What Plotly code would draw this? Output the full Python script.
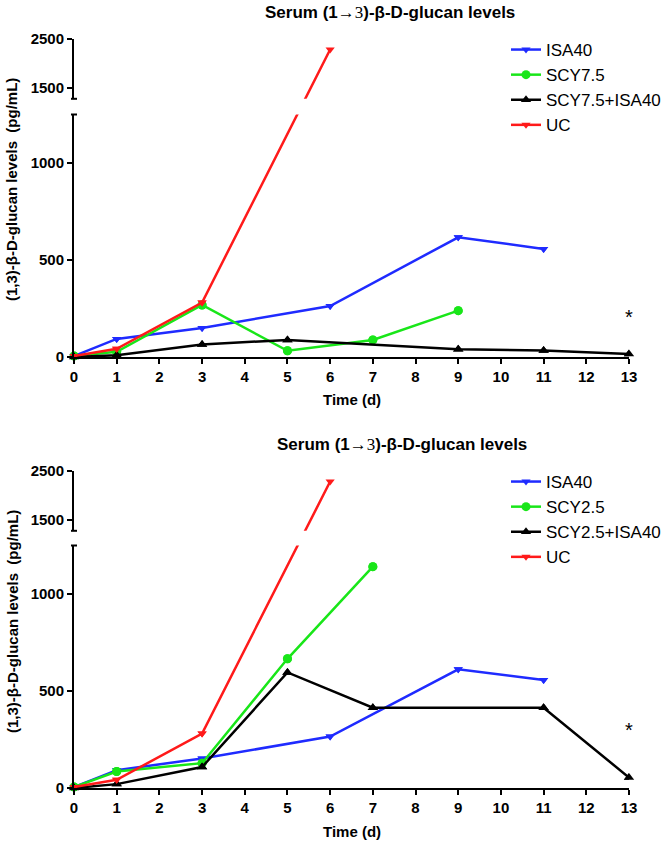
import plotly.graph_objects as go

W, H = 666, 842

# ---------------- data ----------------
days_isa40 = [0, 1, 3, 6, 9, 11]
isa40_top = [5, 93, 150, 263, 617, 557]
isa40_bottom = [5, 92, 152, 265, 612, 557]

days_scy75 = [0, 1, 3, 5, 7, 9]
scy75 = [5, 27, 268, 32, 88, 239]

days_combo75 = [0, 1, 3, 5, 9, 11, 13]
combo75 = [0, 9, 65, 88, 40, 33, 15]

days_scy25 = [0, 1, 3, 5, 7]
scy25 = [5, 85, 128, 666, 1141]

days_combo25 = [0, 1, 3, 5, 7, 11, 13]
combo25 = [0, 20, 108, 596, 414, 414, 54]

days_uc = [0, 1, 3, 6]
uc = [5, 42, 281, 2285]

x_ticks = list(range(0, 14))
low_ticks = [0, 500, 1000]
high_ticks = [1500, 2500]
LOW = [0, 1250]
HIGH = [1280, 2500]
star_top = (13, 206)
star_bottom = (13, 298)

title_text = ("Serum (1\u2192<span style='font-family:Liberation Serif;font-weight:normal'>3</span>)"
              "-\u03b2-D-glucan levels")
ytitle_text = "(1,3)-\u03b2-D-glucan levels  (pg/mL)"
xtitle_text = "Time (d)"

BLUE = "#1f2bff"
GREEN = "#19e619"
BLACK = "#000000"
RED = "#ff1a1a"
FONT = "Liberation Sans, Arial, sans-serif"


def pf(py):
    return 1 - py / H


XDOM = [74 / W, 629 / W]
panels = [
    dict(low=[pf(357), pf(114.5)], high=[pf(98.8), pf(39)], off=0),
    dict(low=[pf(788), pf(545.5)], high=[pf(530.8), pf(471)], off=432),
]


def to_axis(v, seg, dl, dh):
    if v <= LOW[1]:
        p = dl[0] + (v - LOW[0]) / (LOW[1] - LOW[0]) * (dl[1] - dl[0])
    else:
        p = dh[0] + (v - HIGH[0]) / (HIGH[1] - HIGH[0]) * (dh[1] - dh[0])
    if seg == "low":
        return LOW[0] + (p - dl[0]) / (dl[1] - dl[0]) * (LOW[1] - LOW[0])
    return HIGH[0] + (p - dh[0]) / (dh[1] - dh[0]) * (HIGH[1] - HIGH[0])


fig = go.Figure()

series_sets = [
    [("ISA40", days_isa40, isa40_top, BLUE, "triangle-down", 8),
     ("SCY7.5", days_scy75, scy75, GREEN, "circle", 9),
     ("SCY7.5+ISA40", days_combo75, combo75, BLACK, "triangle-up", 9),
     ("UC", days_uc, uc, RED, "triangle-down", 8)],
    [("ISA40", days_isa40, isa40_bottom, BLUE, "triangle-down", 8),
     ("SCY2.5", days_scy25, scy25, GREEN, "circle", 9),
     ("SCY2.5+ISA40", days_combo25, combo25, BLACK, "triangle-up", 9),
     ("UC", days_uc, uc, RED, "triangle-down", 8)],
]

axis_names = [("x", "y", "x2", "y2", "legend"), ("x3", "y3", "x4", "y4", "legend2")]

for pi, (panel, sers) in enumerate(zip(panels, series_sets)):
    xl, yl, xh, yh, leg = axis_names[pi]
    dl, dh = panel["low"], panel["high"]
    for name, xs, ys, col, sym, ms in sers:
        ylow = [to_axis(v, "low", dl, dh) for v in ys]
        fig.add_trace(go.Scatter(
            x=xs, y=ylow, mode="lines+markers", name=name, legend=leg,
            line=dict(color=col, width=2.5),
            marker=dict(symbol=sym, size=ms, color=col),
            xaxis=xl, yaxis=yl, cliponaxis=True, hoverinfo="skip"))
        in_low = [(x, v) for x, v in zip(xs, ys) if v <= LOW[1]]
        fig.add_trace(go.Scatter(
            x=[p[0] for p in in_low], y=[p[1] for p in in_low], mode="markers",
            marker=dict(symbol=sym, size=ms, color=col), showlegend=False,
            xaxis=xl, yaxis=yl, cliponaxis=False, hoverinfo="skip"))
        in_high = [(x, v) for x, v in zip(xs, ys) if v > LOW[1]]
        if in_high:
            yhigh = [to_axis(v, "high", dl, dh) for v in ys]
            fig.add_trace(go.Scatter(
                x=xs, y=yhigh, mode="lines", line=dict(color=col, width=2.5),
                showlegend=False, xaxis=xh, yaxis=yh, cliponaxis=True, hoverinfo="skip"))
            fig.add_trace(go.Scatter(
                x=[p[0] for p in in_high], y=[p[1] for p in in_high], mode="markers",
                marker=dict(symbol=sym, size=ms, color=col), showlegend=False,
                xaxis=xh, yaxis=yh, cliponaxis=False, hoverinfo="skip"))

tickfont = dict(family=FONT, size=15, color="black", weight="bold")
common_axis = dict(showline=True, linecolor="black", linewidth=2, ticks="outside",
                   ticklen=5, tickwidth=2, tickcolor="black", showgrid=False,
                   zeroline=False, tickfont=tickfont, automargin=False)

layout_axes = {}
for pi, panel in enumerate(panels):
    n_low = 2 * pi + 1
    n_high = 2 * pi + 2
    kx_low = "xaxis" if n_low == 1 else f"xaxis{n_low}"
    ky_low = "yaxis" if n_low == 1 else f"yaxis{n_low}"
    xl_ref = "x" if n_low == 1 else f"x{n_low}"
    yl_ref = "y" if n_low == 1 else f"y{n_low}"
    layout_axes[kx_low] = dict(common_axis, domain=XDOM, range=[0, 13], tickvals=x_ticks,
                               anchor=yl_ref)
    layout_axes[ky_low] = dict(common_axis, domain=panel["low"], range=LOW, tickvals=low_ticks,
                               anchor=xl_ref)
    layout_axes[f"xaxis{n_high}"] = dict(domain=XDOM, range=[0, 13], visible=False,
                                         anchor=f"y{n_high}")
    layout_axes[f"yaxis{n_high}"] = dict(common_axis, domain=panel["high"], range=HIGH,
                                         tickvals=high_ticks, anchor=f"x{n_high}")

fig.update_layout(**layout_axes)

annotations = []
shapes = []
for pi, panel in enumerate(panels):
    off = panel["off"]
    title_cx = 390 if pi == 0 else 402
    annotations.append(dict(text=title_text, x=title_cx / W, y=pf(12 + off), xref="paper",
                            yref="paper", showarrow=False, xanchor="center", yanchor="middle",
                            font=dict(family=FONT, size=17, color="black", weight="bold")))
    annotations.append(dict(text=ytitle_text, x=12 / W, y=pf(190 + off), xref="paper",
                            yref="paper", showarrow=False, textangle=-90, xanchor="center",
                            yanchor="middle",
                            font=dict(family=FONT, size=15, color="black", weight="bold")))
    annotations.append(dict(text=xtitle_text, x=352 / W, y=pf(399 + off), xref="paper",
                            yref="paper", showarrow=False, xanchor="center", yanchor="middle",
                            font=dict(family=FONT, size=15, color="black", weight="bold")))
    star = star_top if pi == 0 else star_bottom
    annotations.append(dict(text="*", x=star[0], y=star[1],
                            xref="x" if pi == 0 else "x3", yref="y" if pi == 0 else "y3",
                            showarrow=False, xanchor="center", yanchor="middle",
                            font=dict(family=FONT, size=20, color="black")))
    # axis break caps
    for yp in (panel["low"][1], panel["high"][0]):
        shapes.append(dict(type="line", xref="paper", yref="paper",
                           x0=XDOM[0] - 3 / W, x1=XDOM[0] + 3 / W, y0=yp, y1=yp,
                           line=dict(color="black", width=2)))

legend_style = dict(xanchor="right", yanchor="top", bgcolor="rgba(0,0,0,0)",
                    font=dict(family=FONT, size=17, color="black"), tracegroupgap=0,
                    itemwidth=30, borderwidth=0)

fig.update_layout(
    width=W, height=H, autosize=False,
    margin=dict(l=0, r=0, t=0, b=0, autoexpand=False),
    paper_bgcolor="white", plot_bgcolor="white",
    annotations=annotations, shapes=shapes,
    legend=dict(legend_style, x=1, y=pf(32)),
    legend2=dict(legend_style, x=1, y=pf(32 + 432)),
)

post = (
    "var s=document.createElement('style');"
    "s.textContent='html,body{margin:0!important;padding:0!important;overflow:hidden!important;"
    "width:666px;height:842px;}';"
    "document.head.appendChild(s);"
    "var d=document.getElementById('{plot_id}');"
    "d.style.position='absolute';d.style.left='0px';d.style.top='0px';"
)

fig.write_html(
    "out.html",
    config={"displayModeBar": False, "responsive": False},
    post_script=post,
)
